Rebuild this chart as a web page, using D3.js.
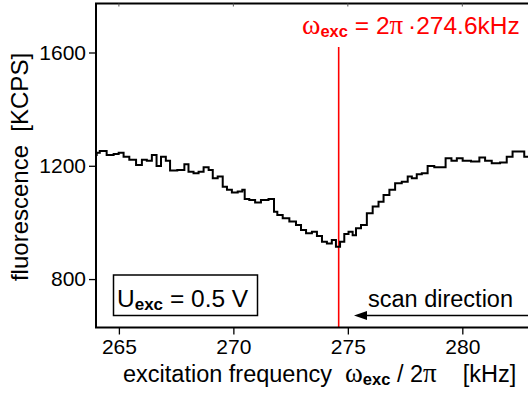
<!DOCTYPE html>
<html>
<head>
<meta charset="utf-8">
<script src="https://cdn.jsdelivr.net/npm/d3@7"></script>
<style>
  html, body { margin: 0; padding: 0; background: #fff; }
  svg { display: block; font-family: "Liberation Sans", Arial, sans-serif; }
</style>
</head>
<body>
<div id="chart"></div>
<script>
// excitation frequency (kHz) and fluorescence (KCPS)
const freq = [264.0, 264.06, 264.27, 264.66, 264.88, 265.10, 265.31, 265.60, 265.90, 266.11,
  266.33, 266.55, 266.74, 266.94, 267.16, 267.31, 267.79, 267.93, 268.15, 268.37,
  268.59, 268.81, 269.03, 269.17, 269.46, 269.61, 269.83, 270.04, 270.34, 270.44,
  270.55, 270.84, 271.06, 271.35, 271.72, 271.83, 272.01, 272.30, 272.59, 272.88,
  273.03, 273.32, 273.54, 273.76, 273.98, 274.19, 274.41, 274.55, 274.77, 274.92,
  275.14, 275.28, 275.43, 275.72, 275.94, 276.23, 276.45, 276.67, 276.96, 277.17,
  277.54, 277.69, 277.90, 278.12, 278.34, 278.63, 278.92, 279.14, 279.40, 279.65,
  279.87, 280.16, 280.60, 280.89, 281.10, 281.47, 281.83, 282.05, 282.34, 282.63, 282.78, 283.0];
const fluor = [1238, 1246, 1252, 1238, 1242, 1246, 1232, 1221, 1203, 1221,
  1218, 1238, 1199, 1232, 1218, 1183, 1185, 1205, 1179, 1174,
  1179, 1195, 1185, 1156, 1162, 1126, 1115, 1106, 1109, 1115,
  1083, 1079, 1070, 1079, 1083, 1038, 1026, 1015, 1003, 991,
  973, 962, 967, 952, 932, 926, 938, 914, 932, 959,
  967, 955, 979, 991, 1032, 1056, 1073, 1097, 1115, 1138,
  1144, 1162, 1156, 1170, 1174, 1199, 1195, 1195, 1227, 1218,
  1227, 1218, 1215, 1229, 1218, 1209, 1212, 1232, 1250, 1250, 1232, 1232];

const xTicks = [265, 270, 275, 280];
const yTicks = [800, 1200, 1600];
const resonance = 274.6;

const W = 528, H = 398;
const svg = d3.select('#chart').append('svg')
  .attr('width', W).attr('height', H);

const x = d3.scaleLinear().domain([264, 283]).range([96, 531]);
const y = d3.scaleLinear().domain([629, 1773]).range([327.5, 3.5]);

const data = freq.map((f, i) => ({ f: f, v: fluor[i] }));

// resonance marker
svg.append('line')
  .attr('x1', x(resonance)).attr('x2', x(resonance))
  .attr('y1', 47).attr('y2', y(629))
  .attr('stroke', '#ff0000').attr('stroke-width', 1.6);

// trace
const line = d3.line().x(d => x(d.f)).y(d => y(d.v)).curve(d3.curveStep);
svg.append('path')
  .datum(data)
  .attr('d', line)
  .attr('fill', 'none')
  .attr('stroke', '#000')
  .attr('stroke-width', 2);

// frame
svg.append('path')
  .attr('d', `M${x(283) + 10},${y(1773)}H${x(264)}V${y(629)}H${x(283) + 10}`)
  .attr('fill', 'none').attr('stroke', '#000').attr('stroke-width', 2);

// axes
const xAxis = svg.append('g')
  .attr('transform', `translate(0,${y(629)})`)
  .call(d3.axisBottom(x).tickValues(xTicks).tickFormat(d3.format('d')).tickSize(7).tickPadding(5));
const yAxis = svg.append('g')
  .attr('transform', `translate(${x(264)},0)`)
  .call(d3.axisLeft(y).tickValues(yTicks).tickFormat(d3.format('d')).tickSize(7).tickPadding(3));
[xAxis, yAxis].forEach(a => {
  a.select('.domain').remove();
  a.selectAll('line').attr('stroke', '#000').attr('stroke-width', 1.3);
  a.selectAll('text').attr('fill', '#000')
    .style('font-family', '"Liberation Sans", Arial, sans-serif')
    .style('font-size', '21px');
});

// small ticks on top edge
svg.append('g').selectAll('line')
  .data(xTicks).enter().append('line')
  .attr('x1', d => x(d)).attr('x2', d => x(d))
  .attr('y1', y(1773)).attr('y2', y(1773) + 3)
  .attr('stroke', '#555').attr('stroke-width', 1);

// axis titles
svg.append('text')
  .attr('transform', `translate(28,${167}) rotate(-90)`)
  .attr('text-anchor', 'middle')
  .attr('xml:space', 'preserve')
  .style('font-size', '24px')
  .text('fluorescence  [KCPS]');

const xt = svg.append('text')
  .attr('x', 123).attr('y', 382)
  .style('font-size', '23.5px')
  .attr('xml:space', 'preserve');
xt.append('tspan').text('excitation frequency  ');
xt.append('tspan').style('font-family', '"Liberation Serif", serif').style('font-size', '27px').text('ω');
xt.append('tspan').attr('dy', 3).style('font-size', '16.5px').style('font-weight', 'bold').text('exc');
xt.append('tspan').attr('dy', -3).text(' / 2');
xt.append('tspan').style('font-family', '"Liberation Serif", serif').style('font-size', '27px').text('π');
xt.append('tspan').text('    [kHz]');

// resonance label
const rt = svg.append('text')
  .attr('x', 302).attr('y', 34)
  .attr('fill', '#ff0000')
  .style('font-size', '24.5px')
  .attr('xml:space', 'preserve');
rt.append('tspan').style('font-family', '"Liberation Serif", serif').style('font-size', '28px').text('ω');
rt.append('tspan').attr('dy', 3).style('font-size', '16.5px').style('font-weight', 'bold').text('exc');
rt.append('tspan').attr('dy', -3).text(' = 2');
rt.append('tspan').style('font-family', '"Liberation Serif", serif').style('font-size', '27px').text('π');
rt.append('tspan').text('\u2009·274.6kHz');

// voltage box
svg.append('rect')
  .attr('x', 113.5).attr('y', 275).attr('width', 144).attr('height', 40.5)
  .attr('fill', '#fff').attr('stroke', '#000').attr('stroke-width', 1.5);
const ut = svg.append('text')
  .attr('x', 117).attr('y', 306.5)
  .style('font-size', '24.5px')
  .attr('xml:space', 'preserve');
ut.append('tspan').text('U');
ut.append('tspan').attr('dy', 3).style('font-size', '17px').style('font-weight', 'bold').text('exc');
ut.append('tspan').attr('dy', -3).text(' = 0.5 V');

// scan direction
svg.append('text')
  .attr('x', 513).attr('y', 307)
  .attr('text-anchor', 'end')
  .style('font-size', '23.5px')
  .text('scan direction');
svg.append('line')
  .attr('x1', 528).attr('x2', 364)
  .attr('y1', 315.5).attr('y2', 315.5)
  .attr('stroke', '#000').attr('stroke-width', 1.5);
svg.append('path')
  .attr('d', 'M354,315.5L367,311L367,320Z')
  .attr('fill', '#000');
</script>
</body>
</html>
